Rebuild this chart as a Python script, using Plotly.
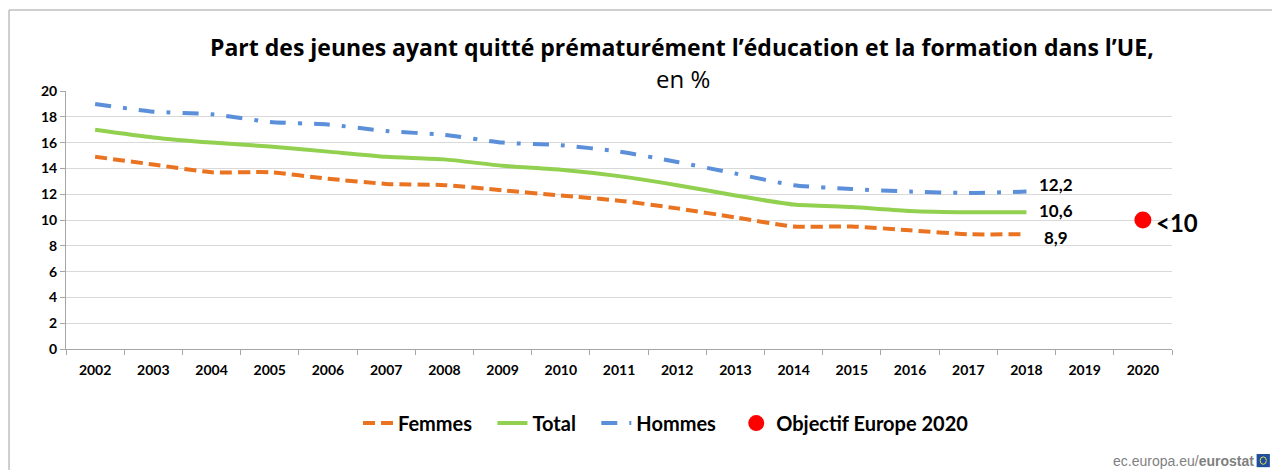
import plotly.graph_objects as go

years = [str(y) for y in range(2002, 2021)]
data_years = [str(y) for y in range(2002, 2019)]
femmes = [14.9, 14.3, 13.7, 13.7, 13.2, 12.8, 12.7, 12.3, 11.9, 11.5, 10.9, 10.2, 9.5, 9.5, 9.2, 8.9, 8.9]
total = [17.0, 16.4, 16.0, 15.7, 15.3, 14.9, 14.7, 14.2, 13.9, 13.4, 12.7, 11.9, 11.2, 11.0, 10.7, 10.6, 10.6]
hommes = [19.0, 18.4, 18.2, 17.6, 17.4, 16.9, 16.6, 16.0, 15.8, 15.3, 14.5, 13.6, 12.7, 12.4, 12.2, 12.1, 12.2]
target_year = ["2020"]
target_value = [10]
end_labels = ["8,9", "10,6", "12,2"]
target_label = "<10"

FONT = "Lato, Open Sans, sans-serif"
TFONT = "Open Sans, Lato, sans-serif"
PAD = "&nbsp;&nbsp;&nbsp;"

fig = go.Figure()
fig.add_trace(go.Scatter(x=data_years, y=femmes, name="<b>Femmes</b>" + PAD, mode="lines",
                         line=dict(color="#E97320", width=4, dash="12px,6px", shape="spline", smoothing=0.6)))
fig.add_trace(go.Scatter(x=data_years, y=total, name="<b>Total</b>" + PAD, mode="lines",
                         line=dict(color="#92D050", width=4, shape="spline", smoothing=0.6)))
fig.add_trace(go.Scatter(x=data_years, y=hommes, name="<b>Hommes</b>" + PAD, mode="lines",
                         line=dict(color="#5B8FDA", width=4, dash="16px,12px,4px,12px", shape="spline", smoothing=0.6)))
fig.add_trace(go.Scatter(x=target_year, y=target_value, name="<b>Objectif Europe 2020</b>", mode="markers",
                         marker=dict(color="#FF0000", size=17)))

i_end = years.index(data_years[-1])
i_tgt = years.index(target_year[0])

# end labels
fig.add_annotation(x=i_end, y=femmes[-1], text="<b>%s</b>" % end_labels[0], showarrow=False,
                   xanchor="left", xshift=16, yshift=-3, font=dict(size=17, color="black", family=FONT))
fig.add_annotation(x=i_end, y=total[-1], text="<b>%s</b>" % end_labels[1], showarrow=False,
                   xanchor="left", xshift=11, yshift=2, font=dict(size=17, color="black", family=FONT))
fig.add_annotation(x=i_end, y=hommes[-1], text="<b>%s</b>" % end_labels[2], showarrow=False,
                   xanchor="left", xshift=11, yshift=7, font=dict(size=17, color="black", family=FONT))
fig.add_annotation(x=i_tgt, y=target_value[0], text="<b>%s</b>" % target_label, showarrow=False,
                   xanchor="left", xshift=11, yshift=-2, font=dict(size=24, color="black", family=FONT))

# title
fig.add_annotation(xref="paper", yref="paper", x=0.557, y=1.171,
                   text="<b>Part des jeunes ayant quitté prématurément l’éducation et la formation dans l’UE,</b>",
                   showarrow=False, xanchor="center", yanchor="middle",
                   font=dict(size=23, color="black", family=TFONT))
fig.add_annotation(xref="paper", yref="paper", x=0.558, y=1.05, text="en %",
                   showarrow=False, xanchor="center", yanchor="middle",
                   font=dict(size=24, color="black", family=TFONT))

# watermark
fig.add_annotation(xref="paper", yref="paper", x=1.0755, y=-0.434,
                   text="ec.europa.eu/<b>eurostat</b>", showarrow=False, xanchor="right", yanchor="middle",
                   font=dict(size=14, color="#7F7F7F", family="Liberation Sans Narrow, Liberation Sans, sans-serif"))

fig.update_layout(
    width=1272, height=470,
    margin=dict(l=66, r=100, t=91, b=121, autoexpand=False),
    paper_bgcolor="white", plot_bgcolor="white",
    font=dict(family=FONT, color="black"),
    showlegend=True,
    legend=dict(orientation="h", x=0.5425, xanchor="center", y=-0.287, yanchor="middle",
                font=dict(size=20, family=FONT, color="black"),
                traceorder="normal", itemwidth=30),
    xaxis=dict(type="category", categoryorder="array", categoryarray=years,
               range=[-0.5, 18.5], tickson="boundaries", ticks="outside", ticklen=5,
               tickcolor="#A6A6A6", showline=True, linecolor="#A6A6A6", linewidth=1,
               showgrid=False, tickfont=dict(size=14, family=FONT), automargin=False,
               tickprefix="<b>", ticksuffix="</b>", ticklabelstandoff=8),
    yaxis=dict(range=[0, 20], dtick=2, showgrid=True, gridcolor="#D9D9D9", gridwidth=1,
               showline=True, linecolor="#A6A6A6", ticks="outside", ticklen=5, tickcolor="#A6A6A6",
               tickfont=dict(size=14, family=FONT), zeroline=False, automargin=False,
               tickprefix="<b>", ticksuffix="</b>"),
)

# outer frame (top and left edges) and flag
fig.add_shape(type="line", xref="paper", yref="paper", x0=-0.0515, x1=1.1, y0=1.314, y1=1.314,
              line=dict(color="#BFBFBF", width=1.5))
fig.add_shape(type="line", xref="paper", yref="paper", x0=-0.0515, x1=-0.0515, y0=1.314, y1=-0.47,
              line=dict(color="#BFBFBF", width=1.5))
fig.add_shape(type="rect", xref="paper", yref="paper", x0=1.0765, x1=1.0885, y0=-0.407, y1=-0.458,
              line=dict(color="#1F4E9C", width=0), fillcolor="#1F4E9C")
fig.add_shape(type="circle", xref="paper", yref="paper", x0=1.0797, x1=1.0853, y0=-0.418, y1=-0.447,
              line=dict(color="#E8D44D", width=1), fillcolor="rgba(0,0,0,0)")

fig.write_html("out.html", config={"displayModeBar": False},
               post_script="document.body.style.margin='0px';document.body.style.overflow='hidden';")
